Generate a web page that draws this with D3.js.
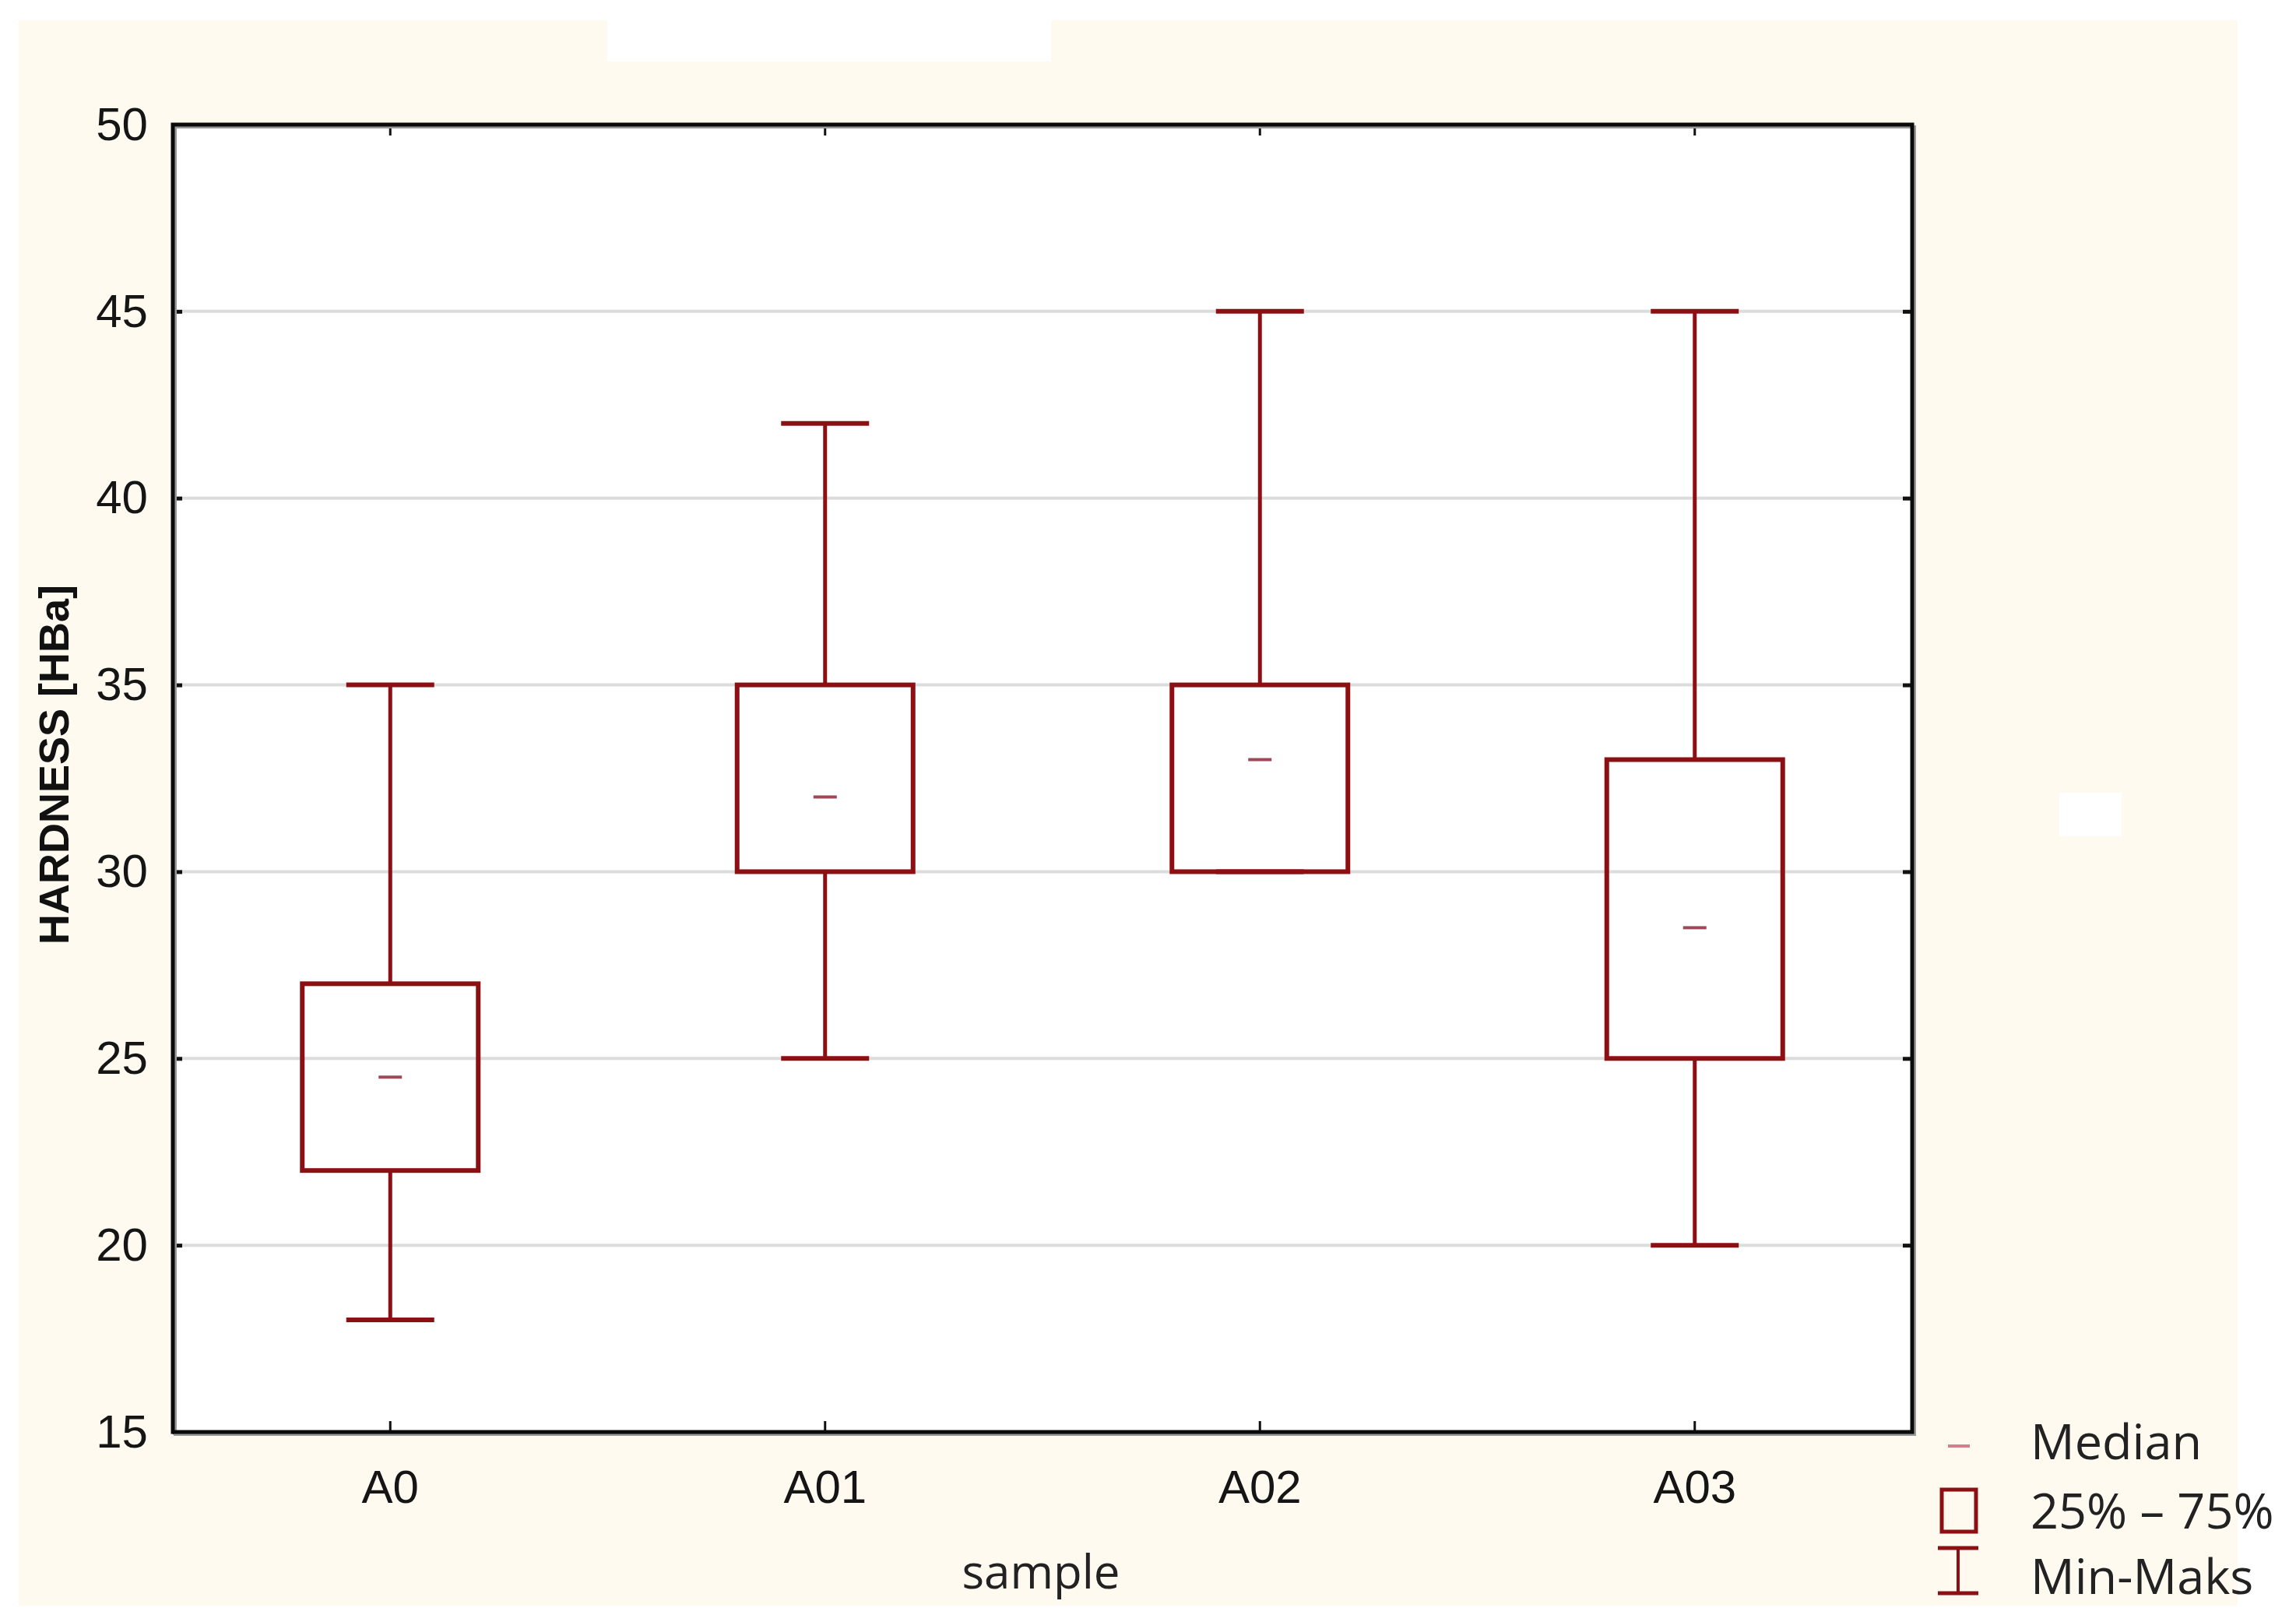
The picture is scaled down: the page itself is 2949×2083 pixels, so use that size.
<!DOCTYPE html>
<html><head><meta charset="utf-8">
<script src="https://cdn.jsdelivr.net/npm/d3@7"></script>
<style>html,body{margin:0;padding:0;background:#fff;}svg{display:block;}</style>
</head><body>
<svg id="chart" width="2949" height="2083"></svg>
<script>
const categories = ["A0", "A01", "A02", "A03"];
const minValues = [18, 25, 30, 20];
const q1Values = [22, 30, 30, 25];
const medianValues = [24.5, 32, 33, 28.5];
const q3Values = [27, 35, 35, 33];
const maxValues = [35, 42, 45, 45];
const yTicks = [15, 20, 25, 30, 35, 40, 45, 50];
const legendLabels = ["Median", "25% \u2013 75%", "Min-Maks"];

const W = 2949, H = 2083;
const L = 222, R = 2456, T = 160, B = 1839;
const RED = "#8c0f14";
const svg = d3.select("#chart");

// backgrounds
svg.append("rect").attr("x",0).attr("y",0).attr("width",W).attr("height",H).attr("fill","#ffffff");
svg.append("rect").attr("x",24).attr("y",26).attr("width",2850).attr("height",2036).attr("fill","#fefaf0");
svg.append("rect").attr("x",780).attr("y",26).attr("width",570).attr("height",53).attr("fill","#ffffff");
svg.append("rect").attr("x",2645).attr("y",1018).attr("width",80).attr("height",56).attr("fill","#ffffff");
svg.append("rect").attr("x",L).attr("y",T).attr("width",R-L).attr("height",B-T).attr("fill","#ffffff");

const y = d3.scaleLinear().domain([15, 50]).range([B, T]);
const x = d3.scaleBand().domain(categories).range([L, R]).padding(0);
const cx = c => x(c) + x.bandwidth() / 2;

// gridlines
svg.append("g").selectAll("line").data(yTicks.filter(v => v > 15 && v < 50)).join("line")
  .attr("x1", L).attr("x2", R).attr("y1", d => y(d)).attr("y2", d => y(d))
  .attr("stroke", "#dcdcdc").attr("stroke-width", 4);

// data
const data = categories.map((c, i) => ({c, min: minValues[i], q1: q1Values[i], med: medianValues[i], q3: q3Values[i], max: maxValues[i]}));
const boxW = 226, capW = 113, medW = 30;
const g = svg.append("g");
// whiskers
g.selectAll(".wu").data(data).join("line").attr("x1", d => cx(d.c)).attr("x2", d => cx(d.c))
  .attr("y1", d => y(d.q3)).attr("y2", d => y(d.max)).attr("stroke", RED).attr("stroke-width", 5);
g.selectAll(".wl").data(data.filter(d => d.min < d.q1)).join("line").attr("x1", d => cx(d.c)).attr("x2", d => cx(d.c))
  .attr("y1", d => y(d.q1)).attr("y2", d => y(d.min)).attr("stroke", RED).attr("stroke-width", 5);
g.selectAll(".cu").data(data).join("line").attr("x1", d => cx(d.c) - capW/2).attr("x2", d => cx(d.c) + capW/2)
  .attr("y1", d => y(d.max)).attr("y2", d => y(d.max)).attr("stroke", RED).attr("stroke-width", 6);
g.selectAll(".cl").data(data).join("line").attr("x1", d => cx(d.c) - capW/2).attr("x2", d => cx(d.c) + capW/2)
  .attr("y1", d => y(d.min)).attr("y2", d => y(d.min)).attr("stroke", RED).attr("stroke-width", 6);
// boxes
g.selectAll(".box").data(data).join("rect").attr("x", d => cx(d.c) - boxW/2).attr("width", boxW)
  .attr("y", d => y(d.q3)).attr("height", d => y(d.q1) - y(d.q3))
  .attr("fill", "none").attr("stroke", RED).attr("stroke-width", 6);
// medians
g.selectAll(".med").data(data).join("line").attr("x1", d => cx(d.c) - medW/2).attr("x2", d => cx(d.c) + medW/2)
  .attr("y1", d => y(d.med)).attr("y2", d => y(d.med)).attr("stroke", "#9c4a58").attr("stroke-width", 4);

// axes
const tickFont = "'Liberation Sans', Arial, sans-serif";
const yAxis = svg.append("g").attr("transform", `translate(${L},0)`)
  .call(d3.axisLeft(y).tickValues(yTicks).tickSize(-12).tickPadding(32).tickFormat(d3.format("d")));
yAxis.select(".domain").remove();
yAxis.selectAll(".tick line").attr("stroke", "#111").attr("stroke-width", 5);
yAxis.selectAll(".tick text").attr("font-family", tickFont).attr("font-size", 60).attr("fill", "#151515");

const yAxisR = svg.append("g").attr("transform", `translate(${R},0)`)
  .call(d3.axisRight(y).tickValues(yTicks).tickSize(-12).tickFormat(""));
yAxisR.select(".domain").remove();
yAxisR.selectAll(".tick line").attr("stroke", "#111").attr("stroke-width", 5);

const xAxis = svg.append("g").attr("transform", `translate(0,${B})`)
  .call(d3.axisBottom(x).tickSize(-14).tickPadding(48));
xAxis.select(".domain").remove();
xAxis.selectAll(".tick line").attr("stroke", "#111").attr("stroke-width", 3);
xAxis.selectAll(".tick text").attr("font-family", tickFont).attr("font-size", 60).attr("fill", "#151515");

const xAxisT = svg.append("g").attr("transform", `translate(0,${T})`)
  .call(d3.axisTop(x).tickSize(-14).tickFormat(""));
xAxisT.select(".domain").remove();
xAxisT.selectAll(".tick line").attr("stroke", "#111").attr("stroke-width", 3);

// frame
svg.append("rect").attr("x", L+3).attr("y", T+3).attr("width", R-L).attr("height", B-T)
  .attr("fill", "none").attr("stroke", "#9a9a9a").attr("stroke-width", 4);
svg.append("rect").attr("x", L).attr("y", T).attr("width", R-L).attr("height", B-T)
  .attr("fill", "none").attr("stroke", "#0a0a0a").attr("stroke-width", 5);

// titles
svg.append("text").attr("transform", `translate(88,982) rotate(-90)`)
  .attr("text-anchor", "middle").attr("font-family", tickFont).attr("font-weight", "bold")
  .attr("font-size", 54).attr("fill", "#111").text("HARDNESS [HBa]");
svg.append("text").attr("x", (L+R)/2 - 2).attr("y", 2040).attr("text-anchor", "middle")
  .attr("font-family", "'Open Sans', 'Noto Sans', sans-serif").attr("font-size", 60).attr("fill", "#222").text("sample");

// legend
const legFont = "'Open Sans', 'Noto Sans', sans-serif";
const legY = [1874, 1963, 2047];
svg.append("g").selectAll("text").data(legendLabels).join("text")
  .attr("x", 2608).attr("y", (d, i) => legY[i]).attr("font-family", legFont).attr("font-size", 63)
  .attr("fill", "#222").text(d => d);
svg.append("line").attr("x1", 2502).attr("x2", 2530).attr("y1", 1857).attr("y2", 1857)
  .attr("stroke", "#d0808c").attr("stroke-width", 4);
svg.append("rect").attr("x", 2494).attr("y", 1913).attr("width", 44).attr("height", 54)
  .attr("fill", "none").attr("stroke", RED).attr("stroke-width", 5);
svg.append("line").attr("x1", 2515).attr("x2", 2515).attr("y1", 1988).attr("y2", 2046).attr("stroke", RED).attr("stroke-width", 4);
svg.append("line").attr("x1", 2489).attr("x2", 2541).attr("y1", 1988).attr("y2", 1988).attr("stroke", RED).attr("stroke-width", 5);
svg.append("line").attr("x1", 2489).attr("x2", 2541).attr("y1", 2046).attr("y2", 2046).attr("stroke", RED).attr("stroke-width", 5);
</script>
</body></html>
